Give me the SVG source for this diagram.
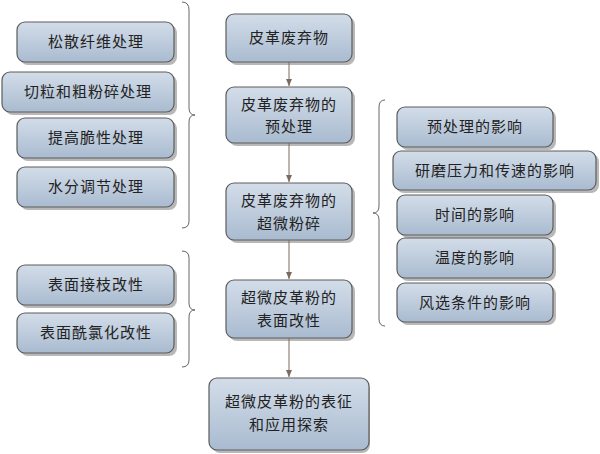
<svg xmlns="http://www.w3.org/2000/svg" width="600" height="454" viewBox="0 0 600 454">
<defs>
<linearGradient id="g" x1="0" y1="0" x2="0" y2="1"><stop offset="0" stop-color="#d3dde9"/><stop offset="1" stop-color="#a9bbd0"/></linearGradient>
<marker id="ar" markerWidth="8" markerHeight="8" refX="7" refY="4" orient="auto" markerUnits="userSpaceOnUse"><path d="M0,1 L7,4 L0,7 Z" fill="#7a6a60"/></marker>
</defs>
<style>
.b{fill:url(#g);stroke:#5c5c5c;stroke-width:1.2}
.s{fill:#b8b8b8}
text{font-family:"Noto Sans CJK SC",sans-serif;font-size:15px;fill:#222;text-anchor:middle;letter-spacing:1px}
.c{fill:none;stroke:#7a6a60;stroke-width:1;marker-end:url(#ar)}
.br{fill:none;stroke:#666;stroke-width:1}
</style>
<rect width="600" height="454" fill="#fff"/>
<g id="n1"><rect class="s" x="229" y="17" width="126" height="48" rx="8"/><rect class="b" x="226" y="14" width="126" height="48" rx="8"/><text x="289" y="43">皮革废弃物</text></g>
<g id="n2"><rect class="s" x="229" y="90" width="126" height="56" rx="8"/><rect class="b" x="226" y="87" width="126" height="56" rx="8"/><text x="289" y="110">皮革废弃物的</text><text x="289" y="132">预处理</text></g>
<g id="n3"><rect class="s" x="229" y="186" width="126" height="57" rx="8"/><rect class="b" x="226" y="183" width="126" height="57" rx="8"/><text x="289" y="206">皮革废弃物的</text><text x="289" y="229">超微粉碎</text></g>
<g id="n4"><rect class="s" x="229" y="283" width="126" height="58" rx="8"/><rect class="b" x="226" y="280" width="126" height="58" rx="8"/><text x="289" y="303">超微皮革粉的</text><text x="289" y="326">表面改性</text></g>
<g id="n5"><rect class="s" x="212" y="381" width="158" height="72" rx="8"/><rect class="b" x="209" y="378" width="160" height="72" rx="8"/><text x="289" y="407">超微皮革粉的表征</text><text x="289" y="430">和应用探索</text></g>
<g id="l1"><rect class="s" x="20" y="25" width="157" height="40" rx="8"/><rect class="b" x="17" y="22" width="157" height="40" rx="8"/><text x="96" y="47">松散纤维处理</text></g>
<g id="l2"><rect class="s" x="5" y="75" width="172" height="40" rx="8"/><rect class="b" x="2" y="72" width="172" height="40" rx="8"/><text x="88" y="97">切粒和粗粉碎处理</text></g>
<g id="l3"><rect class="s" x="20" y="121" width="157" height="40" rx="8"/><rect class="b" x="17" y="118" width="157" height="40" rx="8"/><text x="96" y="143">提高脆性处理</text></g>
<g id="l4"><rect class="s" x="20" y="170" width="157" height="40" rx="8"/><rect class="b" x="17" y="167" width="157" height="40" rx="8"/><text x="96" y="192">水分调节处理</text></g>
<g id="l5"><rect class="s" x="20" y="268" width="157" height="40" rx="8"/><rect class="b" x="17" y="265" width="157" height="40" rx="8"/><text x="96" y="290">表面接枝改性</text></g>
<g id="l6"><rect class="s" x="20" y="316" width="157" height="40" rx="8"/><rect class="b" x="17" y="313" width="157" height="40" rx="8"/><text x="96" y="338">表面酰氯化改性</text></g>
<g id="r1"><rect class="s" x="400" y="110" width="156" height="40" rx="8"/><rect class="b" x="397" y="107" width="156" height="40" rx="8"/><text x="475" y="132">预处理的影响</text></g>
<g id="r2"><rect class="s" x="396" y="154" width="203" height="39" rx="8"/><rect class="b" x="393" y="151" width="203" height="39" rx="8"/><text x="495" y="176">研磨压力和传速的影响</text></g>
<g id="r3"><rect class="s" x="400" y="198" width="156" height="40" rx="8"/><rect class="b" x="397" y="195" width="156" height="40" rx="8"/><text x="475" y="220">时间的影响</text></g>
<g id="r4"><rect class="s" x="400" y="241" width="156" height="40" rx="8"/><rect class="b" x="397" y="238" width="156" height="40" rx="8"/><text x="475" y="263">温度的影响</text></g>
<g id="r5"><rect class="s" x="400" y="286" width="156" height="39" rx="8"/><rect class="b" x="397" y="283" width="156" height="39" rx="8"/><text x="475" y="308">风选条件的影响</text></g>
<g id="connectors">
<line class="c" x1="289" y1="62" x2="289" y2="86"/>
<line class="c" x1="289" y1="143" x2="289" y2="182"/>
<line class="c" x1="289" y1="240" x2="289" y2="279"/>
<line class="c" x1="289" y1="338" x2="289" y2="377"/>
<path class="br" d="M182,2 Q189,2 189,10 L189,108 Q189,115 195,115 Q189,115 189,122 L189,221 Q189,228 182,228"/>
<path class="br" d="M182,251 Q189,251 189,258 L189,303 Q189,310 195,310 Q189,310 189,317 L189,360 Q189,367 182,367"/>
<path class="br" d="M385,100 Q379,100 379,107 L379,206 Q379,213 373,213 Q379,213 379,220 L379,319 Q379,326 385,326"/>
</g>
</svg>
